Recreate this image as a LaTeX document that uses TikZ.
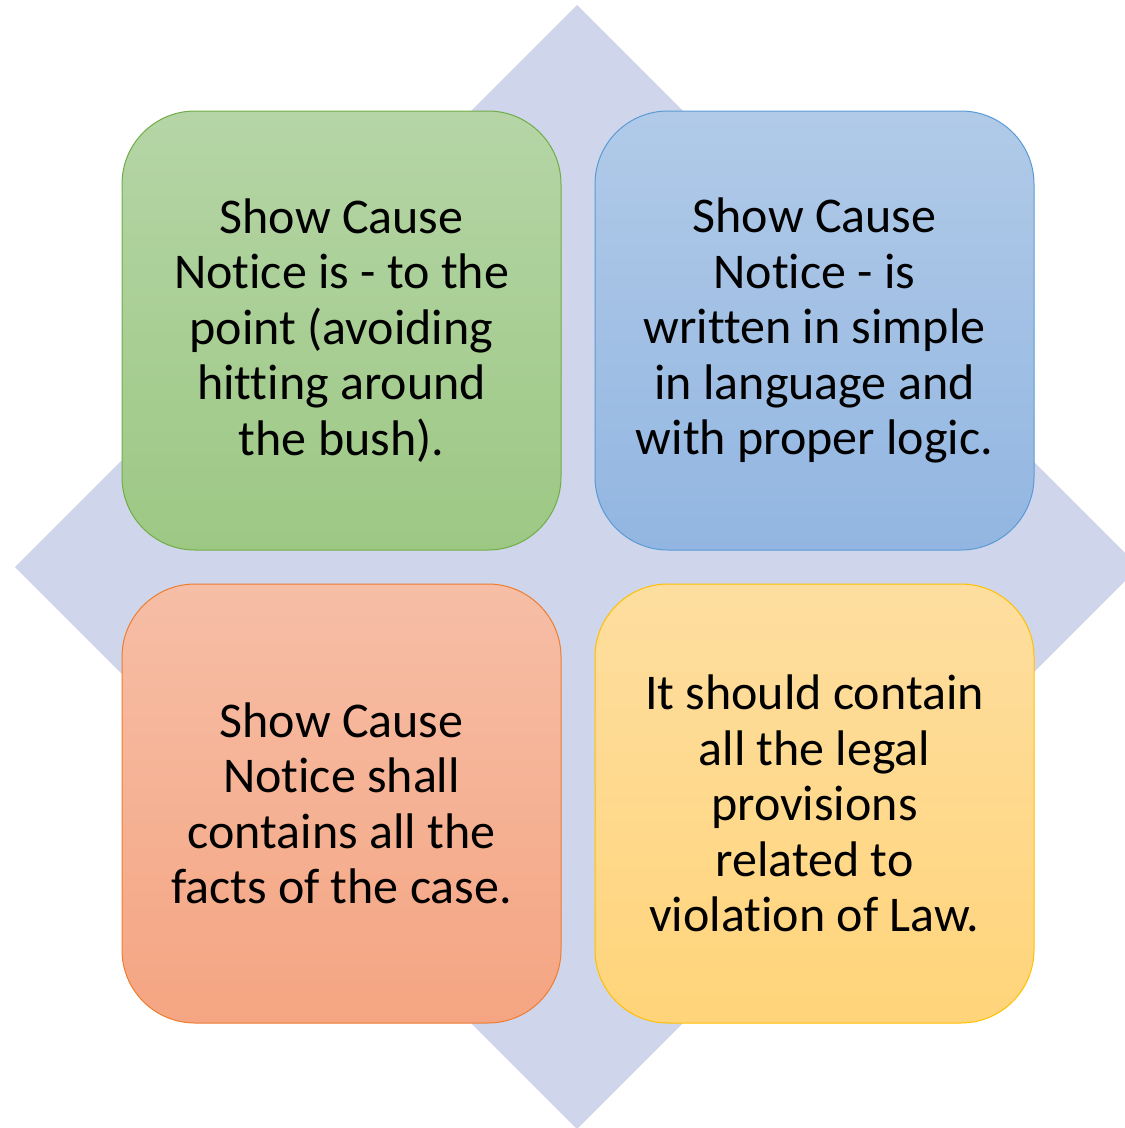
\documentclass[tikz,border=0pt]{standalone}
\usepackage{fontspec}
\setmainfont{Carlito}[Ligatures=NoCommon]
\begin{document}
\begin{tikzpicture}[x=1pt,y=-1pt,
  card/.style={draw, line width=1pt, rounded corners=73pt, minimum width=439pt, minimum height=439pt,
    inner sep=0pt, align=center, font=\fontsize{50}{55.5}\selectfont, text=black},
  greencard/.style={card, draw={rgb,255:red,112;green,173;blue,71}, top color=gtop, bottom color=gbot},
  bluecard/.style={card, draw={rgb,255:red,91;green,155;blue,213}, top color=btop, bottom color=bbot},
  orangecard/.style={card, draw={rgb,255:red,237;green,125;blue,49}, top color=otop, bottom color=obot},
  yellowcard/.style={card, draw={rgb,255:red,255;green,192;blue,0}, top color=ytop, bottom color=ybot}]
\definecolor{diam}{RGB}{207,213,234}
\definecolor{gtop}{RGB}{181,213,166}
\definecolor{gbot}{RGB}{157,200,132}
\definecolor{btop}{RGB}{177,202,232}
\definecolor{bbot}{RGB}{146,182,225}
\definecolor{otop}{RGB}{246,190,166}
\definecolor{obot}{RGB}{245,165,130}
\definecolor{ytop}{RGB}{254,222,160}
\definecolor{ybot}{RGB}{255,212,122}
\useasboundingbox (0,0) rectangle (1125,1128);
\begin{scope}
\clip (0,0) rectangle (1125,1128);
\fill[diam] (577,5) -- (1139,567) -- (577,1129) -- (15,567) -- cycle;
\end{scope}
\node[greencard] (g) at (341.5,330.5) {Show Cause\\Notice is - to the\\point (avoiding\\hitting around\\the bush).};
\node[bluecard] (b) at (814.5,330.5) {Show Cause\\Notice - is\\written in simple\\in language and\\with proper logic.};
\node[orangecard] (o) at (341.5,803.5) {Show Cause\\Notice shall\\contains all the\\facts of the case.};
\node[yellowcard] (y) at (814.5,803.5) {It should contain\\all the legal\\provisions\\related to\\violation of Law.};
\end{tikzpicture}
\end{document}
